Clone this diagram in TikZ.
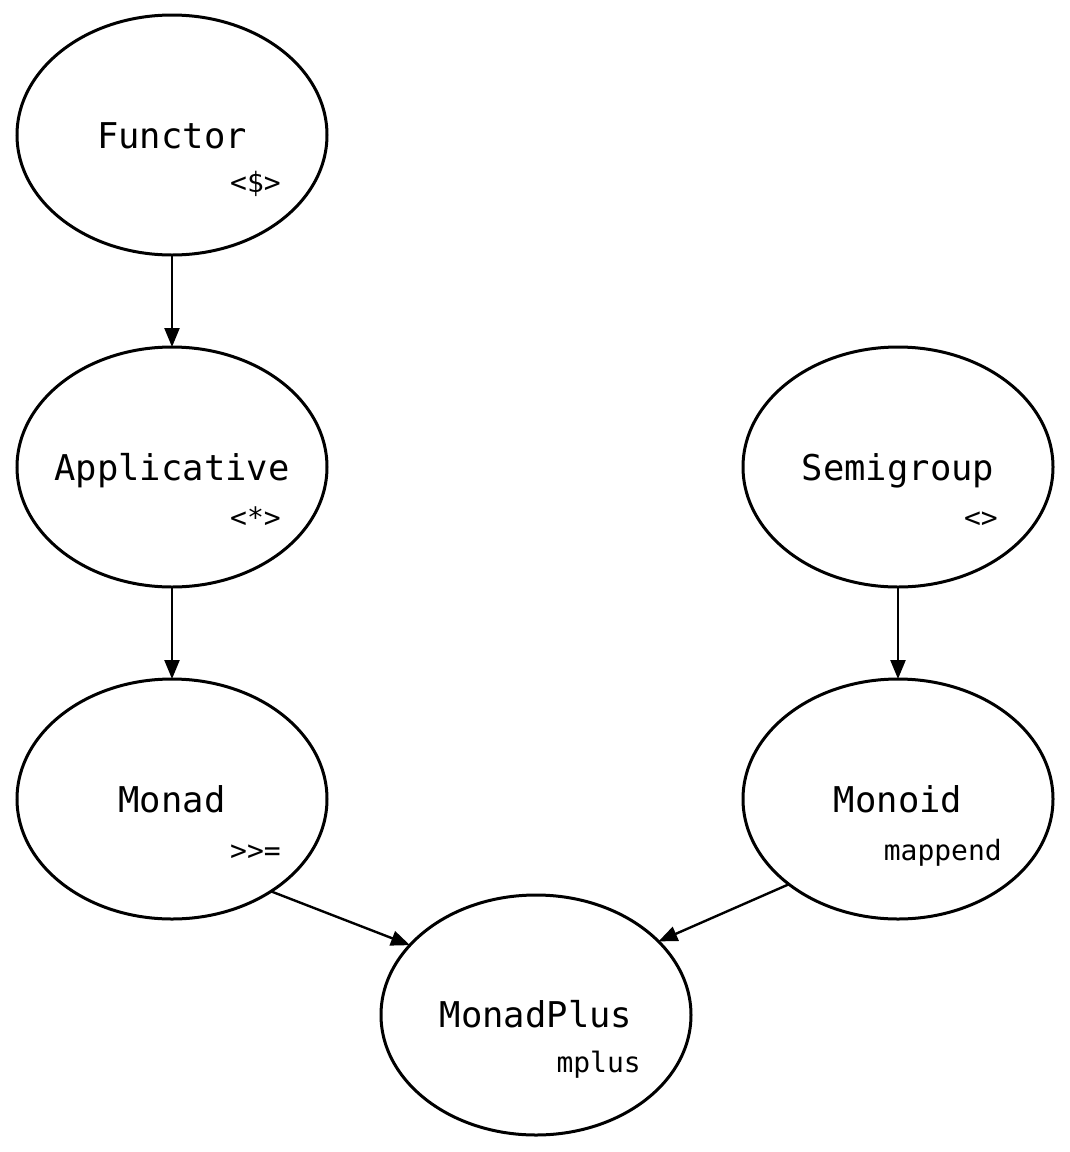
\documentclass[tikz,border=0pt]{standalone}
\usepackage{fontspec}
\newfontfamily\codefont{DejaVu Sans Mono}
\usetikzlibrary{shapes.geometric,arrows.meta}
\tikzset{
  cls/.style={ellipse, draw=black, line width=3pt, minimum width=310pt, minimum height=240pt, inner sep=0pt, outer sep=0pt},
  mainlbl/.style={anchor=base, inner sep=0pt, font=\codefont\fontsize{35.5pt}{40pt}\selectfont},
  sublbl/.style={anchor=base east, inner sep=0pt, font=\codefont\fontsize{28pt}{32pt}\selectfont},
  arr/.style={line width=2.4pt, -{Triangle[length=19pt,width=15pt]}}
}
\begin{document}
\begin{tikzpicture}[x=1pt,y=-1pt]
\useasboundingbox (0,0) rectangle (1070,1152);
% ellipses
\node[cls] (fun) at (172,135) {};
\node[cls] (app) at (172,467) {};
\node[cls] (mon) at (172,799) {};
\node[cls] (sem) at (898,467) {};
\node[cls] (moid) at (898,799) {};
\node[cls] (mp) at (536,1015) {};
% labels
\node[mainlbl] (funT) at (172,148) {Functor};
\node[sublbl] (funS) at (281,192) {<\$>};
\node[mainlbl] (appT) at (172,480) {Applicative};
\node[sublbl] (appS) at (281,527) {<*>};
\node[mainlbl] (monT) at (172,812) {Monad};
\node[sublbl] (monS) at (281,860) {>{}>=};
\node[mainlbl] (semT) at (898,480) {Semigroup};
\node[sublbl] (semS) at (998,527) {<>};
\node[mainlbl] (moidT) at (898,812) {Monoid};
\node[sublbl] (moidS) at (1002,860) {mappend};
\node[mainlbl] (mpT) at (536,1027) {MonadPlus};
\node[sublbl] (mpS) at (641,1072) {mplus};
% edges
\draw[arr] (fun.south) -- (app.north);
\draw[arr] (app.south) -- (mon.north);
\draw[arr] (sem.south) -- (moid.north);
\draw[arr] (mon.-43.2) -- (mp.151.6);
\draw[arr] (moid.-142.7) -- (mp.31.8);
\end{tikzpicture}
\end{document}
